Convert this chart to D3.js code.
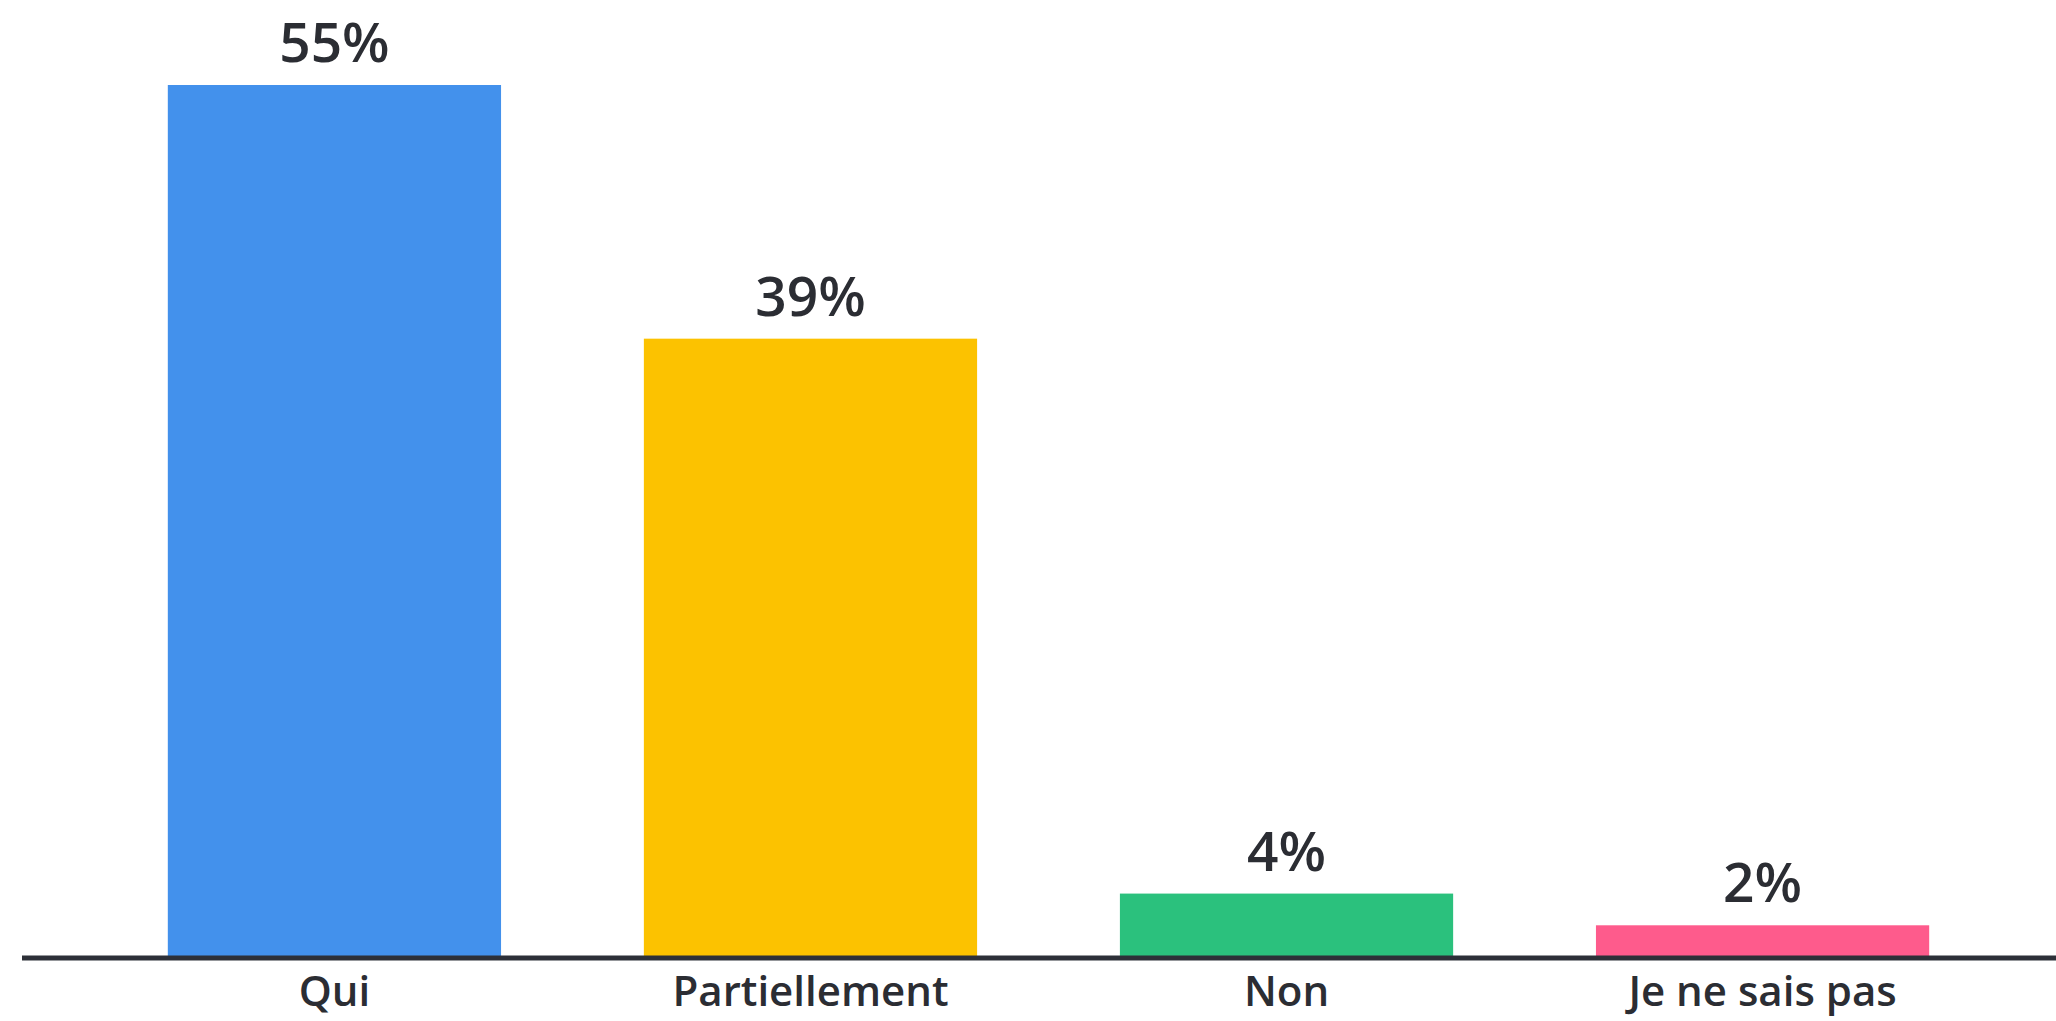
<!DOCTYPE html>
<html>
<head>
<meta charset="utf-8">
<script src="https://cdn.jsdelivr.net/npm/d3@7"></script>
<style>
  html, body { margin: 0; padding: 0; background: #ffffff; }
  svg { display: block; }
</style>
</head>
<body>
<div id="chart"></div>
<script>
// chart data
const categories = ['Qui', 'Partiellement', 'Non', 'Je ne sais pas'];
const values = [55, 39, 4, 2];
const barColors = ['#4391ec', '#fcc200', '#2bc17d', '#fe5b8c'];

const width = 2056;
const height = 1021;
const baseline = 957;

const svg = d3.select('#chart').append('svg')
    .attr('width', width)
    .attr('height', height);

const x = d3.scaleBand()
    .domain(categories)
    .range([25, 2072])
    .paddingInner(0.3)
    .paddingOuter(0.3);

const y = d3.scaleLinear()
    .domain([0, 55])
    .range([baseline, 85]);

const data = categories.map((c, i) => ({ cat: c, value: values[i], color: barColors[i] }));

// bars
svg.append('g')
    .selectAll('rect')
    .data(data)
    .enter().append('rect')
    .attr('x', d => x(d.cat))
    .attr('y', d => y(d.value))
    .attr('width', x.bandwidth())
    .attr('height', d => baseline - y(d.value))
    .attr('fill', d => d.color);

// value labels
svg.append('g')
    .selectAll('text')
    .data(data)
    .enter().append('text')
    .attr('x', d => x(d.cat) + x.bandwidth() / 2)
    .attr('y', d => y(d.value) - 23)
    .attr('text-anchor', 'middle')
    .attr('font-family', '"Open Sans", sans-serif')
    .attr('font-weight', 600)
    .attr('font-size', 55)
    .attr('fill', '#2b2d33')
    .text(d => d.value + '%');

// category axis (labels only, line drawn separately)
const xAxis = svg.append('g')
    .attr('transform', `translate(0,${baseline + 1})`)
    .call(d3.axisBottom(x).tickSize(0).tickPadding(0));

xAxis.select('.domain').remove();
xAxis.selectAll('text')
    .attr('y', 48)
    .attr('dy', null)
    .attr('font-family', '"Open Sans", sans-serif')
    .attr('font-weight', 600)
    .attr('font-size', 42)
    .attr('fill', '#2b2d33');

svg.append('line')
    .attr('x1', 22)
    .attr('x2', width)
    .attr('y1', baseline + 1)
    .attr('y2', baseline + 1)
    .attr('stroke', '#2d3038')
    .attr('stroke-width', 5);
</script>
</body>
</html>
